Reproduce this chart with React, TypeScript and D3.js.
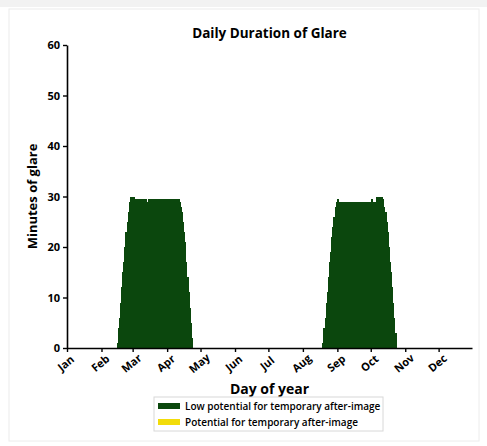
import * as d3 from "d3";
import { useEffect, useRef } from "react";

// tick labels
const months = ["Jan", "Feb", "Mar", "Apr", "May", "Jun", "Jul", "Aug", "Sep", "Oct", "Nov", "Dec"];
const monthStartDays = [1, 32, 60, 91, 121, 152, 182, 213, 244, 274, 305, 335];
const yTicks = [0, 10, 20, 30, 40, 50, 60];

// spring glare window (day of year -> minutes)
const springDays = [
  46, 47, 48, 49, 50, 51, 52, 53, 54, 55, 56, 57, 58, 59, 60, 61, 62, 63, 64, 65, 66, 67, 68,
  69, 70, 71, 72, 73, 74, 75, 76, 77, 78, 79, 80, 81, 82, 83, 84, 85, 86, 87, 88, 89, 90, 91,
  92, 93, 94, 95, 96, 97, 98, 99, 100, 101, 102, 103, 104, 105, 106, 107, 108, 109, 110, 111,
  112, 113,
];
const springMinutes = [
  1, 4, 6, 9, 12, 15, 17, 20, 23, 25, 27, 29, 30, 30, 30, 30, 29.5, 29.5, 29.5, 29.5, 29.5,
  29, 29.5, 29.5, 29.5, 29.5, 29.5, 29, 29.5, 29.5, 29.5, 29.5, 29.5, 29.5, 29.5, 29.5, 29.5,
  29.5, 29.5, 29.5, 29.5, 29.5, 29.5, 29.5, 29.5, 29.5, 29.5, 29.5, 29.5, 29.5, 29.5, 29.5,
  29.5, 29.5, 29.5, 29.5, 29, 28, 27, 25, 23, 21, 17, 14, 11, 8, 5, 2,
];

// autumn glare window
const autumnDays = [
  231, 232, 233, 234, 235, 236, 237, 238, 239, 240, 241, 242, 243, 244, 245, 246, 247, 248,
  249, 250, 251, 252, 253, 254, 255, 256, 257, 258, 259, 260, 261, 262, 263, 264, 265, 266,
  267, 268, 269, 270, 271, 272, 273, 274, 275, 276, 277, 278, 279, 280, 281, 282, 283, 284,
  285, 286, 287, 288, 289, 290, 291, 292, 293, 294, 295, 296,
];
const autumnMinutes = [
  1, 4, 6, 9, 11, 14, 17, 19, 22, 24, 26, 28, 29, 29.5, 29, 29, 29, 29, 29, 29, 29, 29, 29,
  29, 29, 29, 29, 29, 29, 29, 29, 29, 29, 29, 29, 29, 29, 29, 29, 29, 29, 29, 29, 29, 29.5,
  29, 29, 29, 30, 29, 30, 30, 29.5, 30, 29.5, 28, 27, 25, 23, 20, 17, 15, 12, 9, 6, 3,
];

const legendLabels = ["Low potential for temporary after-image", "Potential for temporary after-image"];
const legendColors = ["#0b470d", "#f2dc0a"];

const App = () => {
  const svgRef = useRef<SVGSVGElement>(null);

  useEffect(() => {
    const svg = d3.select(svgRef.current);
    const width = 487;
    const height = 446;
    const margin = { top: 45, right: 15, bottom: 98, left: 67 };

    const xScale = d3.scaleLinear()
      .domain([1, 365])
      .range([margin.left, width - margin.right]);

    const yScale = d3.scaleLinear()
      .domain([0, 60])
      .range([height - margin.bottom, margin.top]);

    const font = "'Open Sans', sans-serif";

    // bars
    const bars = springDays.map((d, i) => ({ day: d, value: springMinutes[i] }))
      .concat(autumnDays.map((d, i) => ({ day: d, value: autumnMinutes[i] })));

    svg.select(".bars")
      .selectAll("rect")
      .data(bars)
      .join("rect")
      .attr("x", d => xScale(d.day - 0.5))
      .attr("width", d => xScale(d.day + 0.5) - xScale(d.day - 0.5) + 0.8)
      .attr("y", d => yScale(d.value))
      .attr("height", d => yScale(0) - yScale(d.value))
      .attr("shape-rendering", "crispEdges")
      .attr("fill", legendColors[0]);

    // x axis
    const xAxis = svg.select<SVGGElement>(".x-axis")
      .attr("transform", `translate(0, ${height - margin.bottom})`)
      .call(d3.axisBottom(xScale)
        .tickValues(monthStartDays)
        .tickFormat((d, i) => months[i])
        .tickSize(4)
        .tickSizeOuter(0));
    xAxis.select(".domain").attr("stroke", "#000").attr("stroke-width", 1.6);
    xAxis.selectAll(".tick line").attr("stroke", "#000").attr("stroke-width", 1.4);
    xAxis.selectAll(".tick text")
      .attr("font-family", font)
      .attr("font-weight", 700)
      .attr("font-size", 11)
      .attr("fill", "#000")
      .attr("text-anchor", "middle")
      .attr("dominant-baseline", "middle")
      .attr("y", 0)
      .attr("dy", 0)
      .attr("transform", "translate(-1, 16) rotate(-40)");

    // y axis
    const yAxis = svg.select<SVGGElement>(".y-axis")
      .attr("transform", `translate(${margin.left}, 0)`)
      .call(d3.axisLeft(yScale).tickValues(yTicks).tickSize(4).tickSizeOuter(0));
    yAxis.select(".domain").attr("stroke", "#000").attr("stroke-width", 1.6);
    yAxis.selectAll(".tick line").attr("stroke", "#000").attr("stroke-width", 1.4);
    yAxis.selectAll(".tick text")
      .attr("font-family", font)
      .attr("font-weight", 700)
      .attr("font-size", 11)
      .attr("fill", "#000")
      .attr("x", -7);

    // titles
    const cx = (xScale.range()[0] + xScale.range()[1]) / 2;
    svg.select(".title")
      .attr("x", cx)
      .attr("y", 38)
      .attr("text-anchor", "middle")
      .attr("font-family", font)
      .attr("font-weight", 700)
      .attr("font-size", 13.5)
      .text("Daily Duration of Glare");

    svg.select(".x-label")
      .attr("x", cx)
      .attr("y", 394)
      .attr("text-anchor", "middle")
      .attr("font-family", font)
      .attr("font-weight", 700)
      .attr("font-size", 14)
      .text("Day of year");

    svg.select(".y-label")
      .attr("transform", `translate(37, ${(yScale.range()[0] + yScale.range()[1]) / 2}) rotate(-90)`)
      .attr("text-anchor", "middle")
      .attr("font-family", font)
      .attr("font-weight", 700)
      .attr("font-size", 13)
      .text("Minutes of glare");

    // legend
    const legend = svg.select(".legend").attr("transform", "translate(154, 397)");
    legend.selectAll("rect.frame")
      .data([0])
      .join("rect")
      .attr("class", "frame")
      .attr("width", 229)
      .attr("height", 34)
      .attr("fill", "#fff")
      .attr("stroke", "#d8d8d8");
    const items = legend.selectAll("g.item")
      .data(legendLabels)
      .join("g")
      .attr("class", "item")
      .attr("transform", (d, i) => `translate(4, ${6 + i * 16})`);
    items.append("rect")
      .attr("width", 22)
      .attr("height", 6)
      .attr("fill", (d, i) => legendColors[i]);
    items.append("text")
      .attr("x", 27)
      .attr("y", 7)
      .attr("font-family", font)
      .attr("font-weight", 600)
      .attr("font-size", 10)
      .attr("fill", "#000")
      .text(d => d);
  }, []);

  return (
    <svg ref={svgRef} width={487} height={446} style={{ position: "absolute", left: 0, top: 0, background: "#fff" }}>
      <rect x={0} y={0} width={487} height={7} fill="#f2f2f2" />
      <rect x={9} y={9} width={470} height={432} fill="none" stroke="#ececec" />
      <g className="bars" />
      <g className="x-axis" />
      <g className="y-axis" />
      <text className="title" />
      <text className="x-label" />
      <text className="y-label" />
      <g className="legend" />
    </svg>
  );
};
export default App;
